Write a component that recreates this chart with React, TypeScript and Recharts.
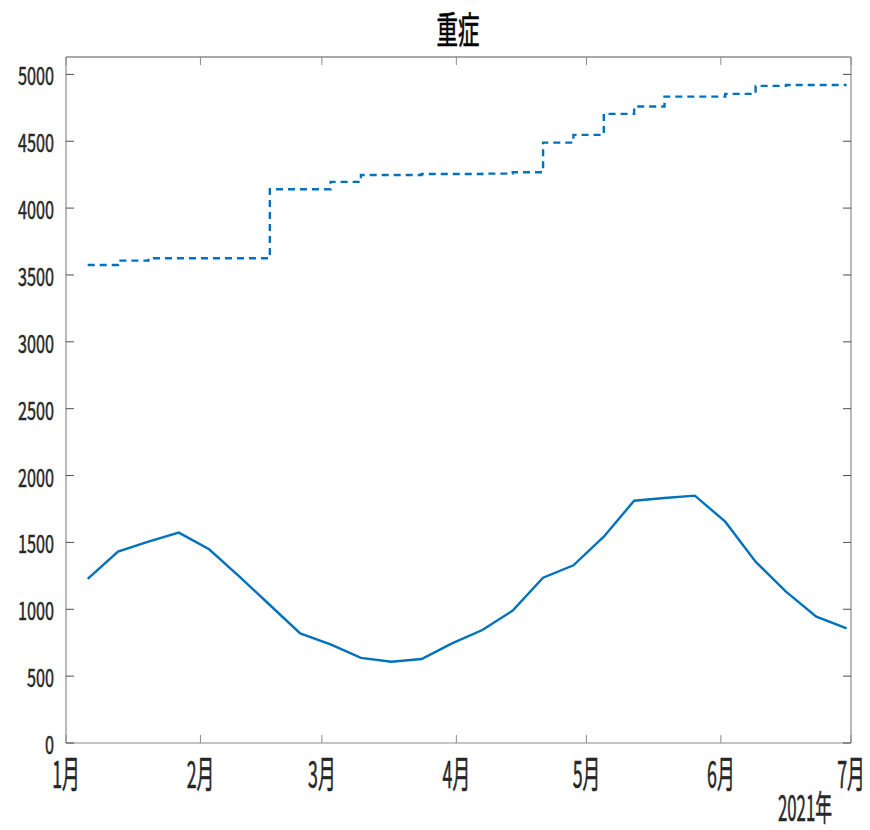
import React from 'react';
import { LineChart, Line, XAxis, YAxis } from 'recharts';

// days counted from 1 Jan 2021 (weekly samples)
const days = [5, 12, 19, 26, 33, 40, 47, 54, 61, 68, 75, 82, 89, 96, 103, 110, 117, 124, 131, 138, 145, 152, 159, 166, 173, 180];

// weekly severe cases (solid)
const severeWeekly = [1227, 1431, 1506, 1573, 1449, 1244, 1032, 820, 738, 636, 608, 628, 745, 845, 990, 1236, 1329, 1543, 1812, 1832, 1850, 1655, 1356, 1132, 945, 858];

// level (dashed steps)
const severeLevel = [3575, 3607, 3625, 3625, 3625, 3625, 4141, 4141, 4196, 4248, 4248, 4255, 4255, 4258, 4268, 4490, 4548, 4705, 4760, 4834, 4834, 4854, 4914, 4921, 4921, 4921];

const monthTicks = [0, 31, 59, 90, 120, 151, 181];
const monthLabels = ['1月', '2月', '3月', '4月', '5月', '6月', '7月'];
const yTicks = [0, 500, 1000, 1500, 2000, 2500, 3000, 3500, 4000, 4500, 5000];

const data = days.map((d, i) => ({ day: d, weekly: severeWeekly[i], level: severeLevel[i] }));

const FONT = '"Noto Sans CJK JP", "Liberation Sans", sans-serif';
const BLUE = '#0072BD';
const AXIS = '#8a8a8a';
const TICK = '#4d4d4d';
const TEXT = '#262626';
const TICK_LEN = 8;

const BottomTick = (props: any) => {
  const { x, y, payload } = props;
  const idx = monthTicks.indexOf(payload.value);
  return (
    <g>
      <line x1={x} y1={y} x2={x} y2={y - TICK_LEN} stroke={AXIS} strokeWidth={1} />
      <text
        transform={`translate(${x},${y + 45}) scale(0.48,1)`}
        textAnchor="middle"
        fontSize={37}
        fontFamily={FONT}
        fill={TEXT}
        stroke={TEXT}
        strokeWidth={0.6}
      >
        {monthLabels[idx]}
      </text>
    </g>
  );
};

const TopTick = (props: any) => {
  const { x, y } = props;
  return <line x1={x} y1={y} x2={x} y2={y + TICK_LEN} stroke={AXIS} strokeWidth={1} />;
};

const LeftTick = (props: any) => {
  const { x, y, payload } = props;
  return (
    <g>
      <line x1={x} y1={y} x2={x + TICK_LEN} y2={y} stroke={TICK} strokeWidth={1} />
      <text
        transform={`translate(${x - 12},${y + 11}) scale(0.65,1)`}
        textAnchor="end"
        fontSize={25}
        fontFamily={FONT}
        fill={TEXT}
        stroke={TEXT}
        strokeWidth={0.5}
      >
        {payload.value}
      </text>
    </g>
  );
};

const RightTick = (props: any) => {
  const { x, y } = props;
  return <line x1={x} y1={y} x2={x - TICK_LEN} y2={y} stroke={TICK} strokeWidth={1} />;
};

export default function App() {
  return (
    <div style={{ position: 'absolute', left: 0, top: 0, width: 870, height: 830, background: '#fff' }}>
      <LineChart width={870} height={830} data={data} margin={{ top: 56, right: 18, bottom: 47, left: 16 }}>
        <XAxis
          xAxisId="bottom"
          dataKey="day"
          type="number"
          domain={[0, 181]}
          ticks={monthTicks}
          height={40}
          tickSize={0}
          tickMargin={0}
          tickLine={false}
          axisLine={{ stroke: AXIS, strokeWidth: 1.2 }}
          tick={<BottomTick />}
          interval={0}
          allowDataOverflow
        />
        <XAxis
          xAxisId="top"
          orientation="top"
          dataKey="day"
          type="number"
          domain={[0, 181]}
          ticks={monthTicks}
          height={1}
          tickSize={0}
          tickMargin={0}
          tickLine={false}
          axisLine={{ stroke: '#555', strokeWidth: 1.2 }}
          tick={<TopTick />}
          interval={0}
          allowDataOverflow
        />
        <YAxis
          yAxisId="left"
          type="number"
          domain={[0, 5130]}
          ticks={yTicks}
          width={50}
          tickSize={0}
          tickMargin={0}
          tickLine={false}
          axisLine={{ stroke: AXIS, strokeWidth: 1.2 }}
          tick={<LeftTick />}
          interval={0}
          allowDataOverflow
        />
        <YAxis
          yAxisId="right"
          orientation="right"
          type="number"
          domain={[0, 5130]}
          ticks={yTicks}
          width={1}
          tickSize={0}
          tickMargin={0}
          tickLine={false}
          axisLine={{ stroke: AXIS, strokeWidth: 1.2 }}
          tick={<RightTick />}
          interval={0}
          allowDataOverflow
        />
        {/* invisible series so the top / right box axes get drawn */}
        <Line
          xAxisId="top"
          yAxisId="right"
          dataKey="weekly"
          stroke="transparent"
          dot={false}
          activeDot={false}
          isAnimationActive={false}
        />
        <Line
          xAxisId="bottom"
          yAxisId="left"
          type="stepAfter"
          dataKey="level"
          stroke={BLUE}
          strokeWidth={2.4}
          strokeDasharray="7 5"
          dot={false}
          isAnimationActive={false}
        />
        <Line
          xAxisId="bottom"
          yAxisId="left"
          type="linear"
          dataKey="weekly"
          stroke={BLUE}
          strokeWidth={2.4}
          dot={false}
          isAnimationActive={false}
        />
      </LineChart>
      <svg width={870} height={830} style={{ position: 'absolute', left: 0, top: 0, pointerEvents: 'none' }}>
        <text
          transform="translate(458,44) scale(0.58,1)"
          textAnchor="middle"
          fontSize={37}
          fontFamily={FONT}
          fill="#000"
          stroke="#000"
          strokeWidth={0.6}
        >
          重症
        </text>
        <text
          transform="translate(832,821) scale(0.48,1)"
          textAnchor="end"
          fontSize={35}
          fontFamily={FONT}
          fill={TEXT}
          stroke={TEXT}
          strokeWidth={0.6}
        >
          2021年
        </text>
      </svg>
    </div>
  );
}
